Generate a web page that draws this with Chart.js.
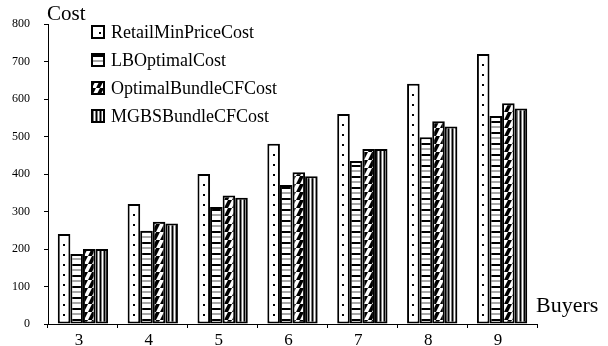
<!DOCTYPE html>
<html>
<head>
<meta charset="utf-8">
<script src="https://cdn.jsdelivr.net/npm/chart.js@4/dist/chart.umd.min.js"></script>
<style>
  html, body { margin: 0; padding: 0; background: #fff; }
  #wrap { width: 608px; height: 346px; }
</style>
</head>
<body>
<div id="wrap"><canvas id="c" width="608" height="346"></canvas></div>
<script>
// Number of buyers on the x axis
const buyers = ['3', '4', '5', '6', '7', '8', '9'];

// Cost per strategy
const retailMinPriceCost = [240, 320, 400, 481, 560, 641, 720];
const lbOptimalCost = [187, 249, 312, 371, 435, 498, 555];
const optimalBundleCFCost = [200, 273, 343, 405, 467, 541, 589];
const mgbsBundleCFCost = [200, 268, 337, 394, 467, 527, 575];

const seriesNames = ['RetailMinPriceCost', 'LBOptimalCost', 'OptimalBundleCFCost', 'MGBSBundleCFCost'];
const yTicks = [0, 100, 200, 300, 400, 500, 600, 700, 800];
const yTitle = 'Cost';
const xTitle = 'Buyers';

const SERIF = '"Liberation Serif", "Times New Roman", serif';

// --- hatch fills -----------------------------------------------------------
function makePattern(w, h, paint) {
  const c = document.createElement('canvas');
  c.width = w; c.height = h;
  const g = c.getContext('2d');
  g.fillStyle = '#fff';
  g.fillRect(0, 0, w, h);
  paint(g);
  return document.getElementById('c').getContext('2d').createPattern(c, 'repeat');
}

// horizontal bands: black, white, grey, white
const hBands = makePattern(4, 11, g => {
  g.fillStyle = '#000'; g.fillRect(0, 0, 4, 2);
  g.fillStyle = '#a8a8a8'; g.fillRect(0, 5, 4, 2);
});

// forward diagonal black/white stripes
const diag = makePattern(8, 8, g => {
  g.fillStyle = '#000';
  [-8, 0, 8].forEach(o => {
    g.beginPath();
    g.moveTo(o, 8); g.lineTo(o + 4, 0); g.lineTo(o + 8, 0); g.lineTo(o + 4, 8); g.closePath();
    g.fill();
  });
});

// fine vertical stripes
const vStripes = makePattern(4, 4, g => {
  g.fillStyle = '#000'; g.fillRect(0, 0, 1, 4);
  g.fillStyle = '#808080'; g.fillRect(1, 0, 1, 4);
  g.fillStyle = '#808080'; g.fillRect(3, 0, 1, 4);
});

const fills = ['#fff', hBands, diag, vStripes];

// dotted centre line inside the first series' bars
const dotPlugin = {
  id: 'dots',
  afterDatasetsDraw(chart) {
    const ctx = chart.ctx;
    const meta = chart.getDatasetMeta(0);
    ctx.save();
    ctx.fillStyle = '#000';
    meta.data.forEach(bar => {
      const x = Math.round(bar.x) - 1;
      for (let y = bar.base - 10; y > bar.y + 5; y -= 10) {
        ctx.fillRect(x, Math.round(y), 2, 2);
      }
    });
    ctx.restore();
  }
};

// legend inside the plot and the axis captions
const annotPlugin = {
  id: 'annot',
  afterDraw(chart) {
    const ctx = chart.ctx;
    const area = chart.chartArea;
    ctx.save();
    ctx.fillStyle = '#000';
    ctx.textBaseline = 'alphabetic';
    ctx.textAlign = 'left';
    ctx.font = '21px ' + SERIF;
    ctx.fillText(yTitle, area.left - 1, 20);
    ctx.font = '22px ' + SERIF;
    ctx.fillText(xTitle, area.right - 1, 312);

    ctx.font = '18px ' + SERIF;
    ctx.textBaseline = 'middle';
    chart.data.datasets.forEach((ds, i) => {
      const cy = 32 + 28 * i;
      const bx = 92, by = cy - 6, s = 12;
      ctx.fillStyle = ds.backgroundColor;
      ctx.fillRect(bx, by, s, s);
      if (i === 0) {
        ctx.fillStyle = '#000';
        ctx.fillRect(bx + 7, by + 6, 2, 2);
      }
      ctx.strokeStyle = '#000';
      ctx.lineWidth = 2;
      ctx.strokeRect(bx, by, s, s);
      ctx.fillStyle = '#000';
      ctx.fillText(ds.label, 111, cy + 1);
    });
    ctx.restore();
  }
};

const seriesValues = [retailMinPriceCost, lbOptimalCost, optimalBundleCFCost, mgbsBundleCFCost];

new Chart(document.getElementById('c'), {
  type: 'bar',
  data: {
    labels: buyers,
    datasets: seriesValues.map((vals, i) => ({
      label: seriesNames[i],
      data: vals,
      backgroundColor: fills[i],
      borderColor: '#000',
      borderWidth: 2,
      borderSkipped: false,
      categoryPercentage: 0.72,
      barPercentage: 1.0
    }))
  },
  options: {
    responsive: false,
    animation: false,
    devicePixelRatio: 1,
    layout: { padding: { top: 24, right: 71, left: 0, bottom: 0 } },
    plugins: {
      legend: { display: false },
      tooltip: { enabled: false }
    },
    scales: {
      y: {
        min: 0,
        max: 800,
        afterFit(scale) { scale.width = 48; },
        afterBuildTicks(scale) { scale.ticks = yTicks.map(v => ({ value: v })); },
        ticks: {
          color: '#000',
          font: { family: SERIF, size: 12 },
          padding: 14
        },
        grid: {
          drawOnChartArea: false,
          tickLength: 4,
          color: '#000',
          lineWidth: 1
        },
        border: { color: '#000', width: 1 }
      },
      x: {
        afterFit(scale) { scale.height = 22; },
        ticks: {
          color: '#000',
          font: { family: SERIF, size: 17 },
          padding: 2,
          labelOffset: -4
        },
        grid: {
          offset: true,
          drawOnChartArea: false,
          tickLength: 4,
          color: '#000',
          lineWidth: 1
        },
        border: { color: '#000', width: 1 }
      }
    }
  },
  plugins: [dotPlugin, annotPlugin]
});
</script>
</body>
</html>
